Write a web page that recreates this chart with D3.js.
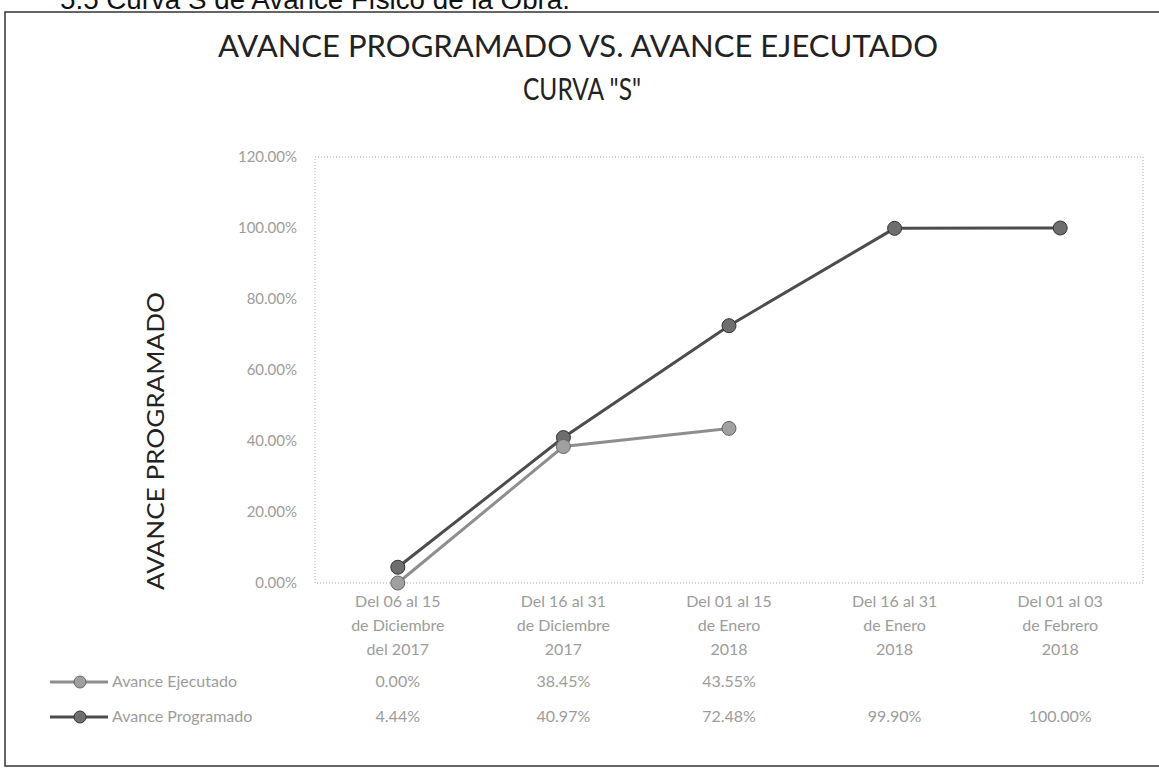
<!DOCTYPE html>
<html>
<head>
<meta charset="utf-8">
<script src="https://cdn.jsdelivr.net/npm/d3@7"></script>
<style>
  body { margin: 0; background: #fff; }
  svg { display: block; }
</style>
</head>
<body>
<svg id="chart" width="1159" height="770"></svg>
<script>
// Datos de la curva S
const categories = [
  ['Del 06 al 15', 'de Diciembre', 'del 2017'],
  ['Del 16 al 31', 'de Diciembre', '2017'],
  ['Del 01 al 15', 'de Enero', '2018'],
  ['Del 16 al 31', 'de Enero', '2018'],
  ['Del 01 al 03', 'de Febrero', '2018'],
];
const ejecutado = [0.00, 38.45, 43.55];
const programado = [4.44, 40.97, 72.48, 99.90, 100.00];
const yTicks = [0, 20, 40, 60, 80, 100, 120];

const series = [
  { name: 'Avance Ejecutado', values: ejecutado, color: '#8e8e8e', marker: '#a0a0a0', edge: '#666' },
  { name: 'Avance Programado', values: programado, color: '#4c4c4c', marker: '#6e6e6e', edge: '#333' },
];

const svg = d3.select('#chart');
const font = 'Lato, "Open Sans", sans-serif';
const textGray = '#9c9c9c';

// Marco y rótulo superior (cortado por el borde)
svg.append('text')
  .text('5.5   Curva S de Avance Físico de la Obra.')
  .attr('x', 60).attr('y', 9)
  .attr('font-family', 'Liberation Sans, Arial, sans-serif')
  .attr('font-size', 27)
  .attr('textLength', 510)
  .attr('lengthAdjust', 'spacingAndGlyphs')
  .attr('fill', '#111')

svg.append('rect')
  .attr('x', 5).attr('y', 12)
  .attr('width', 1160).attr('height', 754)
  .attr('fill', 'none')
  .attr('stroke', '#333')
  .attr('stroke-width', 1.5)

// Títulos
svg.append('text')
  .text('AVANCE PROGRAMADO VS. AVANCE EJECUTADO')
  .attr('x', 578).attr('y', 57)
  .attr('text-anchor', 'middle')
  .attr('font-family', font)
  .attr('font-size', 30)
  .attr('textLength', 720)
  .attr('lengthAdjust', 'spacingAndGlyphs')
  .attr('fill', '#222')

svg.append('text')
  .text('CURVA "S"')
  .attr('x', 582).attr('y', 100)
  .attr('text-anchor', 'middle')
  .attr('font-family', font)
  .attr('font-size', 30)
  .attr('textLength', 118)
  .attr('lengthAdjust', 'spacingAndGlyphs')
  .attr('fill', '#222')

svg.append('text')
  .text('AVANCE PROGRAMADO')
  .attr('transform', 'translate(164,441) rotate(-90)')
  .attr('text-anchor', 'middle')
  .attr('font-family', font)
  .attr('font-size', 24)
  .attr('textLength', 298)
  .attr('lengthAdjust', 'spacingAndGlyphs')
  .attr('fill', '#222')

// Escalas
const plot = { left: 315, right: 1143, top: 157, bottom: 583 };
const x = d3.scaleBand()
  .domain(categories.map((d, i) => i))
  .range([plot.left, plot.right]);
const cx = i => x(i) + x.bandwidth() / 2;
const y = d3.scaleLinear().domain([0, 120]).range([plot.bottom, plot.top]);

// Área de trazado punteada
svg.append('rect')
  .attr('x', plot.left).attr('y', plot.top)
  .attr('width', plot.right - plot.left)
  .attr('height', plot.bottom - plot.top)
  .attr('fill', 'none')
  .attr('stroke', '#a8a8a8')
  .attr('stroke-dasharray', '1,2')

// Eje Y
const yAxis = svg.append('g')
  .attr('transform', `translate(${plot.left},0)`)
  .call(d3.axisLeft(y).tickValues(yTicks).tickSize(0).tickPadding(18)
    .tickFormat(d => d.toFixed(2) + '%'))
yAxis.select('.domain').remove()
yAxis.selectAll('text')
  .attr('font-family', font)
  .attr('font-size', 15)
  .attr('fill', textGray)

// Etiquetas de categorías (tabla de datos)
const catRows = [607, 631, 655];
categories.forEach((lines, i) => {
  lines.forEach((t, j) => {
    svg.append('text')
      .text(t)
      .attr('x', cx(i)).attr('y', catRows[j])
      .attr('text-anchor', 'middle')
      .attr('font-family', font)
      .attr('font-size', 16)
      .attr('fill', textGray)
  })
})

const rowY = [687, 722];
series.forEach((s, k) => {
  s.values.forEach((v, i) => {
    svg.append('text')
      .text(v.toFixed(2) + '%')
      .attr('x', cx(i)).attr('y', rowY[k])
      .attr('text-anchor', 'middle')
      .attr('font-family', font)
      .attr('font-size', 16)
      .attr('fill', textGray)
  })

  // Leyenda
  const lg = svg.append('g').attr('transform', `translate(0,${rowY[k] - 5})`)
  lg.append('line')
    .attr('x1', 50).attr('x2', 108)
    .attr('stroke', s.color).attr('stroke-width', 3)
  lg.append('circle')
    .attr('cx', 80).attr('r', 6)
    .attr('fill', s.marker).attr('stroke', s.edge).attr('stroke-width', 1)
  lg.append('text')
    .text(s.name)
    .attr('x', 112).attr('y', 5)
    .attr('font-family', font)
    .attr('font-size', 16)
    .attr('fill', textGray)
})

// Líneas y marcadores
const line = d3.line().x((d, i) => cx(i)).y(d => y(d));
series.slice().reverse().forEach(s => {
  svg.append('path')
    .datum(s.values)
    .attr('d', line)
    .attr('fill', 'none')
    .attr('stroke', s.color)
    .attr('stroke-width', 3)
  svg.selectAll(null)
    .data(s.values)
    .enter()
    .append('circle')
    .attr('cx', (d, i) => cx(i))
    .attr('cy', d => y(d))
    .attr('r', 7)
    .attr('fill', s.marker)
    .attr('stroke', s.edge)
    .attr('stroke-width', 1)
})
</script>
</body>
</html>
